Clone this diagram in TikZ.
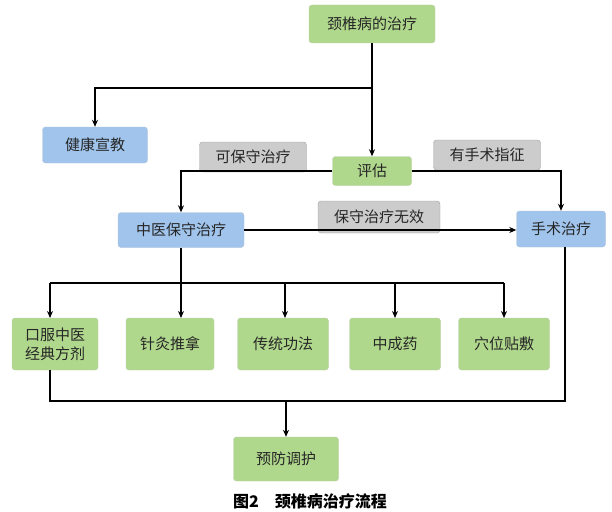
\documentclass[tikz,border=0pt]{standalone}
\usepackage{fontspec}
\newfontfamily\cjk{Noto Sans CJK SC}
\usetikzlibrary{arrows.meta}
\definecolor{gr}{RGB}{176,216,140}
\definecolor{bl}{RGB}{160,196,236}
\definecolor{gy}{RGB}{204,204,204}
\begin{document}
\begin{tikzpicture}[x=1pt,y=-1pt,
 bx/.style={rounded corners=3pt,minimum height=#1,inner sep=0pt,font=\cjk\fontsize{15}{19}\selectfont,text=black!85},
 gbox/.style={bx=36pt,fill=gr,draw=gr!80!black!60},
 bbox/.style={bx=36pt,fill=bl,draw=bl!80!black!60},
 ybox/.style={bx=30pt,fill=gy,draw=gy!80!black},
 ar/.style={-{Stealth[length=7pt,width=6pt]},line width=1.2pt},
 ln/.style={line width=1.2pt}]
\useasboundingbox (0,0) rectangle (612,511);
\node[gbox,minimum width=126pt,minimum height=38pt] (top) at (372,24) {颈椎病的治疗};
\node[bbox,minimum width=105pt] (jk) at (95,145) {健康宣教};
\node[gbox,minimum width=79pt,minimum height=29pt] (pg) at (372,171) {评估};
\node[ybox,minimum width=107pt] (kb) at (253,157) {可保守治疗};
\node[ybox,minimum width=107pt] (ys) at (487,155) {有手术指征};
\node[bbox,minimum width=126pt,minimum height=35pt] (zy) at (181,230) {中医保守治疗};
\node[ybox,minimum width=122pt,minimum height=32pt] (wx) at (379,217) {保守治疗无效};
\node[bbox,minimum width=89pt] (ss) at (561,229) {手术治疗};
\node[gbox,minimum width=86pt,minimum height=52pt,align=center] (b1) at (55,344) {口服中医\\经典方剂};
\node[gbox,minimum width=88pt,minimum height=52pt] (b2) at (170,344) {针灸推拿};
\node[gbox,minimum width=91pt,minimum height=52pt] (b3) at (283,344) {传统功法};
\node[gbox,minimum width=91pt,minimum height=52pt] (b4) at (395,344) {中成药};
\node[gbox,minimum width=91pt,minimum height=52pt] (b5) at (504,344) {穴位贴敷};
\node[gbox,minimum width=105pt,minimum height=44pt] (yf) at (286,459) {预防调护};
\node[font=\cjk\bfseries\fontsize{16}{18}\selectfont,inner sep=0pt] (cap) at (310,501) {图2\quad 颈椎病治疗流程};
\coordinate (j1) at (372,88);
\draw[ar] (top.south) -- (pg.north);
\draw[ar] (j1) -| (jk.north);
\draw[ar] (pg.west) -| (zy.north);
\draw[ar] (pg.east) -| (ss.north);
\draw[ar] (zy.east) -- (zy.east -| ss.west);
\coordinate (j2) at (181,283);
\draw[ln] (zy.south) -- (j2);
\draw[ln] (50,283) -- (504,283);
\foreach \b/\x in {b1/50,b2/181,b3/285,b4/395,b5/504} \draw[ar] (\x,283) -- (\x,318);
\coordinate (j3) at (286,401);
\draw[ln] (b1.south -| 50,0) -- (50,401) -- (565,401) -- (ss.south -| 565,0);
\draw[ar] (j3) -- (yf.north);
\end{tikzpicture}
\end{document}
